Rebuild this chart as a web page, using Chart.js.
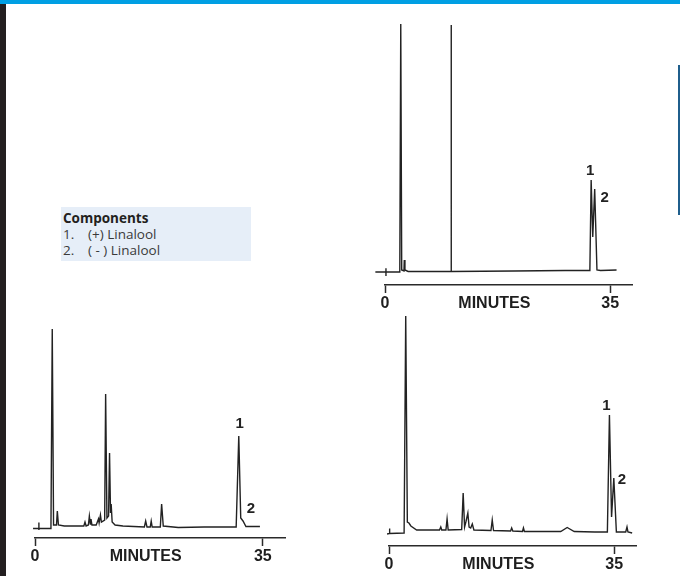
<!DOCTYPE html>
<html>
<head>
<meta charset="utf-8">
<script src="https://cdn.jsdelivr.net/npm/chart.js@4.4.1/dist/chart.umd.min.js"></script>
<style>
  html, body { margin: 0; padding: 0; width: 680px; height: 576px; overflow: hidden; background: #fff; }
  .topbar { position: absolute; left: 0; top: 0; width: 680px; height: 4px; background: #009fe3; }
  .sidebar { position: absolute; left: 0; top: 4px; width: 6px; height: 572px; background: #231f20; }
  .edge-rule { position: absolute; left: 678px; top: 65px; width: 2px; height: 150px; background: #1f5e8c; }
  .components {
    position: absolute; left: 61px; top: 207px; width: 190px; height: 54px;
    box-sizing: border-box; padding: 3px 0 0 2px; background: #e6eef8;
    font-family: "Open Sans", "Noto Sans", sans-serif; font-size: 13.5px; line-height: 16px; color: #3a3a3a;
  }
  .components b { color: #231f20; }
  .components .num { display: inline-block; width: 25px; }
  canvas { position: absolute; }
</style>
</head>
<body>
<div class="topbar"></div>
<div class="sidebar"></div>
<div class="edge-rule"></div>
<div class="components">
  <b>Components</b><br>
  <span class="num">1.</span>(+) Linalool<br>
  <span class="num">2.</span>( - ) Linalool
</div>
<script>
// x axis: retention time, minutes
const axisTicks = [0, 17, 35];
const axisTickLabels = ["0", "MINUTES", "35"];
const peakNames = ["1", "2"];

// detector response, [minutes, height above baseline]
const topTrace = [
  [-1.5, 0], [0.15, 0], [0.15, 3.7], [0.15, -4], [0.15, 0],
  [2.3, 0], [2.45, 248], [2.6, 2], [2.95, 1], [3.0, 12], [3.1, 2], [3.6, 0.5],
  [10.3, 0.5], [10.3, 247], [10.3, 0.5], [20, 1], [28, 1.5],
  [31.85, 1.5], [32.05, 92], [32.3, 35], [32.6, 83], [32.95, 2], [33.5, 1.5], [36.0, 2],
];
const topPeakTimes = [32.05, 32.6];
const topPeakHeights = [92, 83];

const leftTrace = [
  [-0.3, -0.5], [0.6, -0.5], [0.6, 5.5], [0.6, -2], [0.6, -0.5],
  [2.45, -0.5], [2.65, 199], [2.85, 3], [3.3, 3], [3.43, 17], [3.6, 3], [4.5, 2], [7.5, 2],
  [7.68, 6], [7.85, 2], [8.2, 3], [8.35, 12], [8.5, 4], [8.6, 9], [8.75, 3],
  [9.4, 3], [9.75, 9], [9.85, 5], [10.05, 13], [10.2, 6], [10.7, 8],
  [10.85, 134], [11.05, 10], [11.3, 12], [11.45, 75], [11.6, 15], [11.7, 24], [11.85, 6],
  [12.3, 3], [13.5, 2], [16.8, 1], [17.0, 7], [17.2, 1], [17.7, 1], [17.85, 7], [18.0, 1],
  [19.25, 1], [19.45, 24], [19.7, 2], [22, 0.5], [26, 1],
  [30.9, 1], [31.3, 92], [31.6, 10], [31.95, 7], [32.4, 1.5], [34.55, 1.5],
];
const leftPeakTimes = [31.3, 31.95];
const leftPeakHeights = [92, 7];

const rightTrace = [
  [-0.3, -2], [0.1, -1.5], [0.1, 3.5], [0.1, -1.5],
  [2.35, -1], [2.6, 216], [2.85, 10], [3.1, 9], [3.4, 6], [4.3, 2], [7.85, 2],
  [8.05, 5], [8.2, 2], [8.85, 2], [9.03, 13], [9.2, 2],
  [11.3, 2.5], [11.53, 39], [11.75, 5], [11.95, 10], [12.26, 19], [12.45, 5], [12.7, 4], [12.95, 8], [13.2, 2],
  [15.85, 1.5], [16.05, 12], [16.25, 1.5], [18.9, 1], [19.07, 4], [19.25, 1],
  [20.75, 0.5], [20.9, 4], [21.05, 0.5], [26.7, 0.5], [27.7, 4.5], [28.8, 0.5], [32, 0],
  [33.95, 0], [34.27, 117], [34.6, 15], [34.95, 54], [35.35, 0],
  [36.8, 0], [37.0, 5], [37.15, 0], [37.8, -1],
];
const rightPeakTimes = [34.27, 34.95];
const rightPeakHeights = [117, 54];

const traceColor = "#222";
const axisColor = "#2a2a2a";
const axisHeight = 30;

// page box of each plot area plus where the peak numbers sit relative to the apex
const panels = [
  { trace: topTrace, peakTimes: topPeakTimes, peakHeights: topPeakHeights,
    area: { left: 385, top: 22, right: 632, bottom: 285 }, yMin: -13, yMax: 250,
    labelOffsets: [[-1, -9], [10, 9]] },
  { trace: leftTrace, peakTimes: leftPeakTimes, peakHeights: leftPeakHeights,
    area: { left: 35, top: 327, right: 285, bottom: 538 }, yMin: -10, yMax: 201,
    labelOffsets: [[1, -12], [8, -12]] },
  { trace: rightTrace, peakTimes: rightPeakTimes, peakHeights: rightPeakHeights,
    area: { left: 389, top: 314, right: 636, bottom: 546 }, yMin: -14, yMax: 218,
    labelOffsets: [[-3, -9], [8, 2]] },
];

function buildChart(panel) {
  const padX = 30, padTop = 10, padBottom = 40;
  const w = panel.area.right - panel.area.left + 2 * padX;
  const h = panel.area.bottom - panel.area.top + padTop + padBottom;
  const canvas = document.createElement("canvas");
  canvas.width = w;
  canvas.height = h;
  canvas.style.left = panel.area.left - padX + "px";
  canvas.style.top = panel.area.top - padTop + "px";
  canvas.style.width = w + "px";
  canvas.style.height = h + "px";
  document.body.appendChild(canvas);

  const peakLabels = {
    id: "peakLabels",
    afterDatasetsDraw(chart) {
      const ctx = chart.ctx;
      const xs = chart.scales.x, ys = chart.scales.y;
      ctx.save();
      ctx.font = 'bold 15px "Liberation Sans", Arial, sans-serif';
      ctx.fillStyle = traceColor;
      ctx.textAlign = "center";
      ctx.textBaseline = "middle";
      peakNames.forEach(function (name, i) {
        const off = panel.labelOffsets[i];
        ctx.fillText(name,
          xs.getPixelForValue(panel.peakTimes[i]) + off[0],
          ys.getPixelForValue(panel.peakHeights[i]) + off[1]);
      });
      ctx.restore();
    },
  };

  return new Chart(canvas, {
    type: "line",
    data: {
      datasets: [{
        data: panel.trace.map((p) => ({ x: p[0], y: p[1] })),
        borderColor: traceColor,
        borderWidth: 1.4,
        pointRadius: 0,
        tension: 0,
        fill: false,
        clip: false,
      }],
    },
    options: {
      responsive: false,
      animation: false,
      devicePixelRatio: 1,
      events: [],
      layout: { padding: { left: padX, right: padX, top: padTop, bottom: padBottom - axisHeight } },
      plugins: { legend: { display: false }, tooltip: { enabled: false } },
      scales: {
        x: {
          type: "linear",
          min: 0,
          max: 38.4,
          afterBuildTicks: (scale) => { scale.ticks = axisTicks.map((v) => ({ value: v })); },
          afterFit: (scale) => { scale.height = axisHeight; },
          ticks: {
            autoSkip: false,
            maxRotation: 0,
            padding: 1,
            color: "#1e1e1e",
            font: { family: '"Liberation Sans", Arial, sans-serif', size: 16, weight: "bold" },
            callback: (v, i) => axisTickLabels[i],
          },
          grid: {
            drawOnChartArea: false,
            tickLength: 8,
            tickWidth: 1.5,
            tickColor: (c) => (c.tick && c.tick.value === axisTicks[1] ? "rgba(0,0,0,0)" : axisColor),
          },
          border: { display: true, color: axisColor, width: 1.5 },
        },
        y: { display: false, min: panel.yMin, max: panel.yMax },
      },
    },
    plugins: [peakLabels],
  });
}

document.addEventListener("DOMContentLoaded", function () {
  panels.forEach(buildChart);
});
</script>
</body>
</html>
